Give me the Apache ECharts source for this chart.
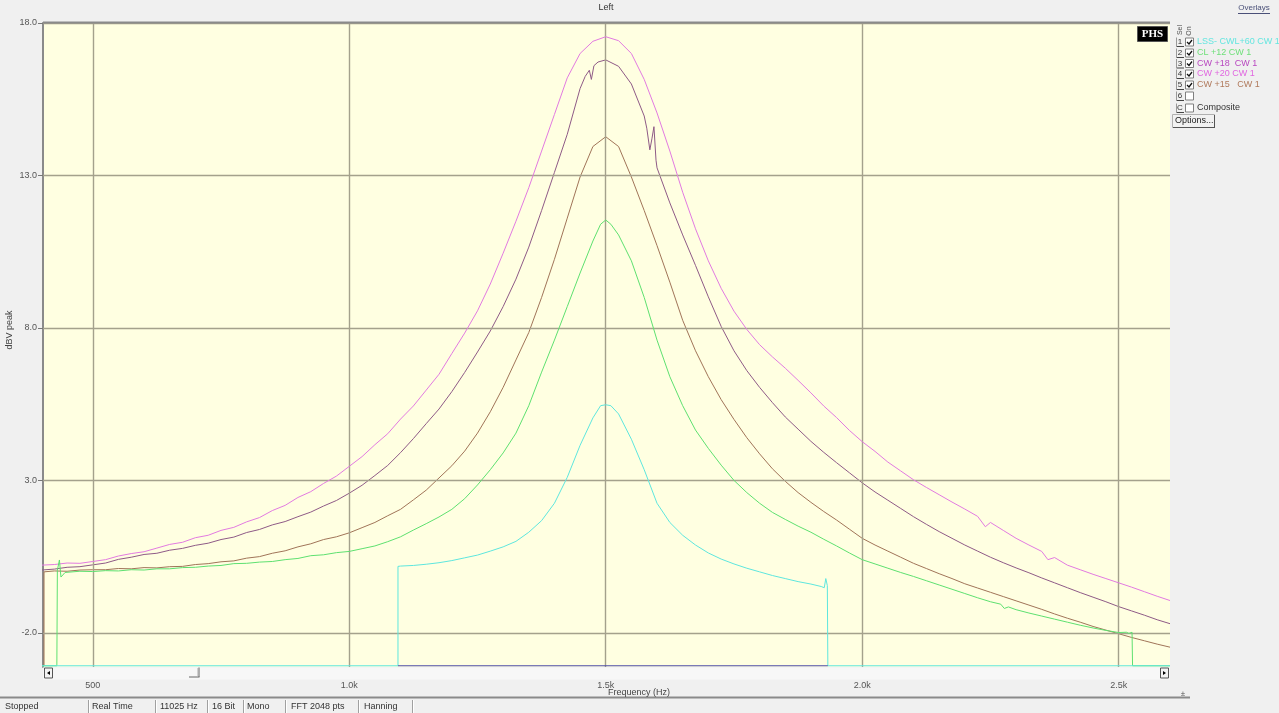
<!DOCTYPE html>
<html><head><meta charset="utf-8">
<script src="https://cdn.jsdelivr.net/npm/echarts@6/dist/echarts.min.js"></script>
<style>html,body{margin:0;padding:0;background:#f0f0f0;}#c{width:1279px;height:713px;}</style>
</head><body><div id="c"></div>
<script>
// ---------- data ----------
const FLOOR = -3.08;
const X_TICKS = [500, 1000, 1500, 2000, 2500];
const X_TICK_LABELS = ['500', '1.0k', '1.5k', '2.0k', '2.5k'];
const Y_TICKS = [18, 13, 8, 3, -2];
const Y_TICK_LABELS = ['18.0', '13.0', '8.0', '3.0', '-2.0'];
const OVERLAY_LABELS = ['LSS- CWL+60 CW 1', 'CL +12 CW 1', 'CW +18  CW 1', 'CW +20 CW 1', 'CW +15   CW 1'];
const STATUS_ITEMS = ['Stopped', 'Real Time', '11025 Hz', '16 Bit', 'Mono', 'FFT 2048 pts', 'Hanning'];

// CW +20 (magenta)
const cw20Hz = [400,425,450,475,500,525,550,575,600,625,650,675,700,725,750,775,800,825,850,875,900,925,950,975,1000,1025,1050,1075,1100,1125,1150,1175,1200,1225,1250,1275,1300,1325,1350,1375,1400,1425,1450,1475,1500,1525,1550,1575,1600,1625,1650,1675,1700,1725,1750,1775,1800,1825,1850,1875,1900,1925,1950,1975,2000,2025,2050,2075,2100,2125,2150,2175,2200,2225,2240,2250,2275,2300,2325,2350,2362,2375,2400,2425,2450,2475,2500,2525,2550,2575,2600];
const cw20Db = [0.22,0.24,0.29,0.28,0.34,0.40,0.52,0.60,0.66,0.78,0.90,0.97,1.12,1.20,1.36,1.46,1.64,1.78,2.01,2.18,2.44,2.63,2.90,3.14,3.46,3.78,4.17,4.53,5.01,5.44,5.96,6.48,7.16,7.83,8.56,9.44,10.45,11.50,12.60,13.80,15.00,16.20,17.00,17.40,17.55,17.42,17.00,16.15,15.05,13.80,12.45,11.25,10.20,9.30,8.55,7.95,7.45,7.05,6.68,6.28,5.87,5.44,5.06,4.64,4.27,3.95,3.60,3.31,3.02,2.77,2.53,2.29,2.06,1.82,1.48,1.62,1.36,1.10,0.88,0.67,0.40,0.47,0.22,0.07,-0.08,-0.22,-0.36,-0.50,-0.65,-0.80,-0.94];

// CW +18 (purple)
const cw18Hz = [400,425,450,475,500,525,550,575,600,625,650,675,700,725,750,775,800,825,850,875,900,925,950,975,1000,1025,1050,1075,1100,1125,1150,1175,1200,1225,1250,1275,1300,1325,1350,1375,1400,1425,1450,1460,1468,1472,1477,1485,1500,1525,1550,1575,1580,1586,1590,1594,1598,1600,1625,1650,1675,1700,1725,1750,1775,1800,1825,1850,1875,1900,1925,1950,1975,2000,2025,2050,2075,2100,2125,2150,2175,2200,2225,2250,2275,2300,2325,2350,2375,2400,2425,2450,2475,2500,2525,2550,2575,2600];
const cw18Db = [0.06,0.09,0.15,0.17,0.23,0.29,0.41,0.48,0.57,0.61,0.71,0.77,0.87,0.94,1.06,1.14,1.29,1.39,1.54,1.65,1.81,1.96,2.16,2.34,2.58,2.84,3.16,3.49,3.91,4.37,4.86,5.34,5.91,6.54,7.21,7.90,8.70,9.60,10.65,11.85,13.10,14.35,15.85,16.25,16.45,16.15,16.60,16.72,16.79,16.58,16.00,14.95,14.55,13.84,14.20,14.60,13.50,13.25,12.10,11.05,10.05,9.02,8.05,7.25,6.60,6.05,5.55,5.08,4.68,4.28,3.92,3.58,3.25,2.92,2.62,2.35,2.08,1.81,1.56,1.32,1.10,0.88,0.68,0.48,0.30,0.13,-0.03,-0.20,-0.36,-0.52,-0.68,-0.83,-0.98,-1.14,-1.28,-1.42,-1.57,-1.70];

// CW +15 (brown)
const cw15Hz = [405,405,425,450,475,500,525,550,575,600,625,650,675,700,725,750,775,800,825,850,875,900,925,950,975,1000,1025,1050,1075,1100,1125,1150,1175,1200,1225,1250,1275,1300,1325,1350,1375,1400,1425,1450,1475,1500,1525,1550,1575,1600,1625,1650,1675,1700,1725,1750,1775,1800,1825,1850,1875,1900,1925,1950,1975,2000,2025,2050,2075,2100,2125,2150,2175,2200,2225,2250,2275,2300,2325,2350,2375,2400,2425,2450,2475,2500,2525,2550,2575,2600];
const cw15Db = [FLOOR,0.00,0.03,0.02,0.06,0.07,0.07,0.11,0.10,0.14,0.13,0.17,0.18,0.24,0.27,0.33,0.36,0.45,0.50,0.61,0.69,0.82,0.92,1.06,1.15,1.28,1.45,1.62,1.84,2.05,2.36,2.68,3.08,3.48,3.96,4.55,5.25,6.05,6.95,7.85,9.00,10.25,11.60,12.95,13.95,14.27,13.95,12.95,11.85,10.70,9.50,8.25,7.25,6.40,5.65,5.00,4.40,3.87,3.38,2.97,2.60,2.28,1.98,1.70,1.40,1.10,0.88,0.68,0.48,0.28,0.11,-0.06,-0.22,-0.39,-0.53,-0.67,-0.81,-0.95,-1.09,-1.23,-1.38,-1.52,-1.65,-1.79,-1.91,-2.03,-2.15,-2.26,-2.37,-2.47];

// CL +12 (green)
const cl12Hz = [400,430,431,435,438,446,475,500,525,550,575,600,625,650,675,700,725,750,775,800,825,850,875,900,925,950,975,1000,1025,1050,1075,1100,1125,1150,1175,1200,1225,1250,1275,1300,1325,1350,1375,1400,1425,1450,1475,1490,1500,1510,1525,1550,1575,1600,1625,1650,1675,1700,1725,1750,1775,1800,1825,1850,1875,1900,1925,1950,1975,2000,2025,2050,2075,2100,2125,2150,2175,2200,2225,2250,2270,2277,2285,2300,2325,2350,2375,2400,2425,2450,2475,2500,2515,2520,2526,2527,2600];
const cl12Db = [FLOOR,FLOOR,0.05,0.39,-0.17,-0.02,0.02,0.01,0.04,0.03,0.07,0.06,0.10,0.10,0.14,0.15,0.19,0.21,0.27,0.28,0.32,0.34,0.40,0.44,0.53,0.56,0.63,0.67,0.76,0.85,0.99,1.15,1.37,1.58,1.80,2.05,2.40,2.85,3.35,3.90,4.55,5.45,6.55,7.60,8.70,9.80,10.85,11.40,11.54,11.40,11.05,10.20,9.00,7.60,6.40,5.45,4.65,4.05,3.50,3.00,2.60,2.25,1.95,1.72,1.50,1.30,1.07,0.85,0.62,0.40,0.26,0.12,-0.02,-0.15,-0.29,-0.43,-0.57,-0.71,-0.85,-0.98,-1.06,-1.20,-1.15,-1.24,-1.35,-1.45,-1.55,-1.65,-1.75,-1.84,-1.92,-1.99,-1.98,-2.02,-1.98,FLOOR,FLOOR];

// LSS- CWL+60 (cyan)
const lssHz = [400,1095,1095,1100,1125,1150,1175,1200,1225,1250,1275,1300,1325,1350,1375,1400,1425,1450,1475,1490,1500,1510,1525,1550,1575,1600,1625,1650,1675,1700,1725,1750,1775,1800,1825,1850,1875,1900,1920,1926,1929,1932,1933,2600];
const lssDb = [FLOOR,FLOOR,0.18,0.19,0.21,0.25,0.30,0.37,0.46,0.55,0.68,0.82,1.00,1.30,1.68,2.25,3.10,4.15,5.05,5.45,5.48,5.45,5.18,4.35,3.35,2.25,1.62,1.20,0.88,0.62,0.42,0.26,0.12,0.00,-0.12,-0.22,-0.32,-0.40,-0.48,-0.52,-0.22,-0.45,FLOOR,FLOOR];

// floor trace (dark blue) under the LSS window
const floorHz = [1095, 1933];
const floorDb = [FLOOR, FLOOR];

// ---------- chart ----------
const zip = (a, b) => a.map((v, i) => [v, b[i]]);
const FONT = '"Liberation Sans", Arial, sans-serif';
const chart = echarts.init(document.getElementById('c'), null, { renderer: 'canvas' });

function line(name, hz, db, color, z) {
  return {
    name, type: 'line', data: zip(hz, db), symbol: 'none', showSymbol: false,
    lineStyle: { color, width: 1 }, itemStyle: { color }, z, clip: true,
    animation: false, emphasis: { disabled: true }, silent: true
  };
}

const legendColors = ['#66e6e0', '#6fe07a', '#b848c0', '#e066e0', '#b07a5c'];
const gfx = [];
function txt(x, y, text, opts) {
  opts = opts || {};
  gfx.push({
    type: 'text', x, y, z: 100, rotation: opts.rot || 0, silent: true,
    style: {
      text, fill: opts.fill || '#404040', font: (opts.weight || 'normal') + ' ' + (opts.size || 9) + 'px ' + (opts.family || FONT),
      align: opts.align || 'left', textAlign: opts.align || 'left',
      verticalAlign: 'middle', textVerticalAlign: 'middle'
    }
  });
}
function rect(x, y, w, h, fill, stroke, lw) {
  gfx.push({ type: 'rect', z: 90, silent: true, shape: { x, y, width: w, height: h },
    style: { fill: fill || 'none', stroke: stroke || 'none', lineWidth: lw || 1 } });
}
function seg(x1, y1, x2, y2, stroke, lw, z) {
  gfx.push({ type: 'line', z: z || 95, silent: true, shape: { x1, y1, x2, y2 }, style: { stroke, lineWidth: lw || 1 } });
}

// top strip and plot border
seg(43, 22.5, 1170, 22.5, '#8a8a8a', 2, 95);
// title
txt(606, 8, 'Left', { size: 9, align: 'center', fill: '#333' });
// y axis name
txt(10, 330, 'dBV peak', { size: 9, align: 'center', rot: Math.PI / 2, fill: '#444' });
// x axis name
txt(639, 693, 'Frequency (Hz)', { size: 9, align: 'center', fill: '#444' });
txt(1183, 694, '±', { size: 8, align: 'center', fill: '#555' });

// scrollbar under plot
rect(43, 667.5, 1127, 12, '#f7f7f7', null);
rect(44.5, 668, 8, 10, '#f4f4f4', '#555', 1);
gfx.push({ type: 'polygon', z: 96, silent: true, shape: { points: [[47, 673], [50, 671], [50, 675]] }, style: { fill: '#000' } });
rect(1160.5, 668, 8, 10, '#f4f4f4', '#555', 1);
gfx.push({ type: 'polygon', z: 96, silent: true, shape: { points: [[1166, 673], [1163, 671], [1163, 675]] }, style: { fill: '#000' } });
seg(199, 667.5, 199, 677, '#666', 1, 96);
seg(189, 677, 199.5, 677, '#666', 1, 96);
seg(198, 668, 198, 676, '#aaa', 1, 96);

// status bar
seg(0, 697.5, 1190, 697.5, '#8a8a8a', 2, 95);
const statusX = [5, 92, 160, 212, 247, 291, 364];
const statusSep = [88, 155, 207, 243, 285, 358, 412];
STATUS_ITEMS.forEach((s, i) => txt(statusX[i], 707, s, { size: 9, fill: '#333' }));
statusSep.forEach(x => { seg(x + 0.5, 700, x + 0.5, 713, '#a0a0a0', 1); seg(x + 1.5, 700, x + 1.5, 713, '#ffffff', 1); });

// overlays panel
txt(1254, 8, 'Overlays', { size: 8, align: 'center', fill: '#4a5078' });
seg(1238, 13.5, 1270, 13.5, '#4a5078', 1);
rect(1137.5, 26.5, 30, 15, '#000', '#555', 1);
txt(1152.5, 34.5, 'PHS', { size: 11, weight: 'bold', align: 'center', fill: '#fff', family: '"Liberation Serif", "DejaVu Serif", serif' });
txt(1180, 30, 'Sel', { size: 7, align: 'center', rot: Math.PI / 2, fill: '#555' });
txt(1189, 31, 'On', { size: 7, align: 'center', rot: Math.PI / 2, fill: '#555' });
const rowY = [42, 53, 63.5, 74, 85, 96, 108];
const rowNum = ['1', '2', '3', '4', '5', '6', 'C'];
rowY.forEach((y, i) => {
  txt(1180, y, rowNum[i], { size: 8, align: 'center', fill: '#333' });
  seg(1176.5, y + 4.5, 1184, y + 4.5, '#444', 1);
  seg(1176.5, y - 4.5, 1176.5, y + 4.5, '#999', 1);
  rect(1185.5, y - 4, 8, 8, '#ffffff', '#808080', 1);
  if (i < 5) {
    gfx.push({ type: 'polyline', z: 97, silent: true, shape: { points: [[1187, y], [1189, y + 2], [1192, y - 2]] }, style: { stroke: '#111', lineWidth: 1.3, fill: 'none' } });
    txt(1197, y, OVERLAY_LABELS[i], { size: 9, fill: legendColors[i] });
  }
});
txt(1197, 108, 'Composite', { size: 9, fill: '#333' });
rect(1172.5, 114.5, 42, 13, '#f2f2f2', '#b0b0b0', 1);
seg(1173, 127.5, 1215, 127.5, '#555', 1);
seg(1214.5, 115, 1214.5, 128, '#555', 1);
txt(1175, 121, 'Options...', { size: 9, fill: '#222' });

const gridLineData = X_TICKS.map(v => ({ xAxis: v })).concat(Y_TICKS.map(v => ({ yAxis: v })));

chart.setOption({
  backgroundColor: '#f0f0f0',
  animation: false,
  textStyle: { fontFamily: FONT },
  grid: { left: 43, right: 109, top: 23, bottom: 46, show: true, backgroundColor: '#ffffe1', borderWidth: 0, containLabel: false, outerBoundsMode: 'none' },
  xAxis: {
    type: 'value', min: 403, max: 2600,
    axisLine: { show: false },
    splitLine: { show: false },
    axisTick: { show: true, customValues: X_TICKS, length: 16, lineStyle: { color: '#777', width: 1 } },
    axisLabel: { customValues: X_TICKS, margin: 14, fontSize: 9, color: '#555', fontFamily: FONT,
      formatter: v => X_TICK_LABELS[X_TICKS.indexOf(v)] }
  },
  yAxis: {
    type: 'value', min: -3.12, max: 18,
    axisLine: { show: true, lineStyle: { color: '#8a8a8a', width: 2 } },
    splitLine: { show: false },
    axisTick: { show: true, customValues: Y_TICKS, length: 5, lineStyle: { color: '#777', width: 1 } },
    axisLabel: { customValues: Y_TICKS, margin: 6, fontSize: 9, color: '#555', fontFamily: FONT,
      formatter: v => Y_TICK_LABELS[Y_TICKS.indexOf(v)] }
  },
  graphic: { elements: gfx },
  series: [
    { name: 'grid', type: 'line', data: [], z: 1, silent: true,
      markLine: { silent: true, symbol: ['none', 'none'], label: { show: false }, animation: false,
        lineStyle: { color: '#a4a18c', width: 1.4, type: 'solid' }, emphasis: { disabled: true }, data: gridLineData } },
    line(OVERLAY_LABELS[4], cw15Hz, cw15Db, '#a07458', 3),
    line(OVERLAY_LABELS[2], cw18Hz, cw18Db, '#8e5a86', 4),
    line(OVERLAY_LABELS[3], cw20Hz, cw20Db, '#e27ae0', 5),
    line(OVERLAY_LABELS[1], cl12Hz, cl12Db, '#5ee070', 6),
    line(OVERLAY_LABELS[0], lssHz, lssDb, '#5ee6de', 7),
    line('floor', floorHz, floorDb, '#4a4aa8', 8)
  ]
});
</script>
</body></html>
